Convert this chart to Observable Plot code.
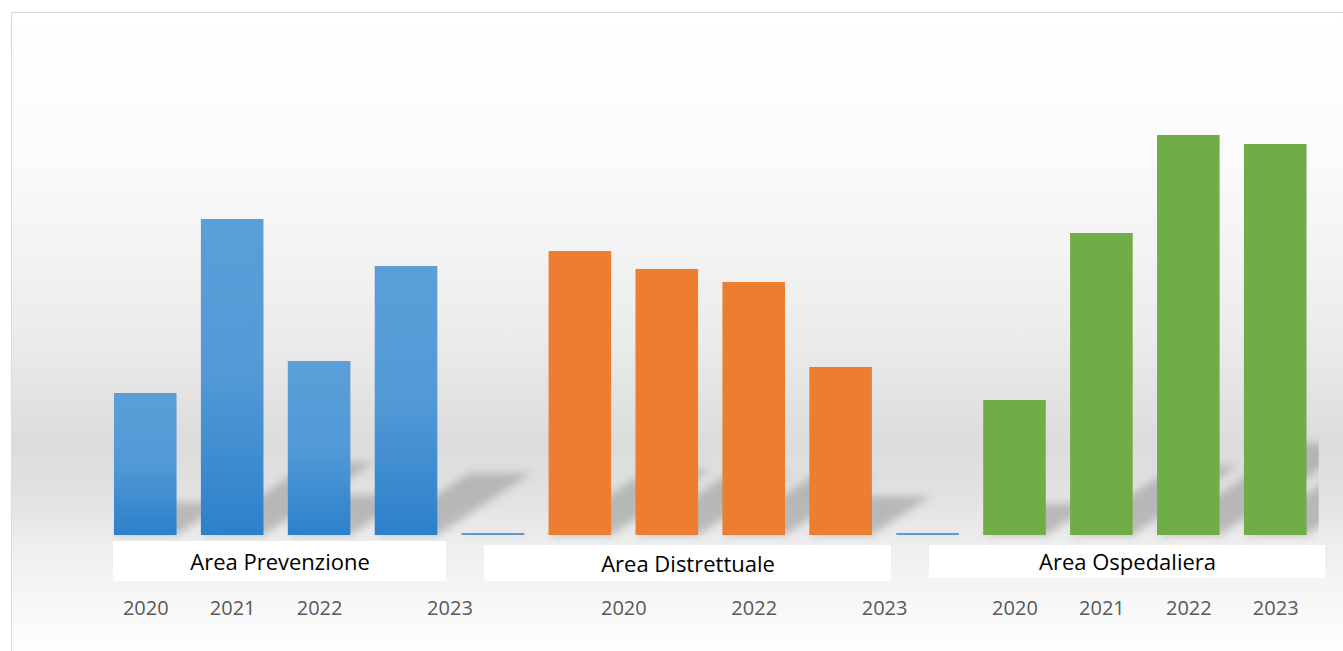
<!DOCTYPE html>
<html>
<head>
<meta charset="utf-8">
<script src="https://cdn.jsdelivr.net/npm/d3@7"></script>
<script src="https://cdn.jsdelivr.net/npm/@observablehq/plot@0.6"></script>
<style>
  html, body { margin: 0; padding: 0; background: #ffffff; }
  #wrap { position: relative; width: 1343px; height: 651px; overflow: hidden; font-family: "Open Sans", sans-serif; }
  #bg {
    position: absolute; left: 11px; top: 12px; width: 1331px; height: 700px;
    border: 1px solid #d9d9d9;
    background: linear-gradient(to bottom,
      #ffffff 0px, #fbfbfb 140px, #f3f3f3 240px, #ececec 318px, #e2e2e2 388px,
      #dcdcdc 433px, #e3e3e3 488px, #eeeeee 533px, #f7f7f7 588px, #fdfdfd 630px, #ffffff 700px);
  }
  #chart { position: absolute; left: 0; top: 0; }
</style>
</head>
<body>
<div id="wrap"><div id="bg"></div><div id="chart"></div></div>
<script>
// ---- data ----
const groups = ["Area Prevenzione", "Area Distrettuale", "Area Ospedaliera"];
const years = ["2020", "2021", "2022", "2023"];
const prevenzione = [142, 316, 174, 269];   // blue series
const distrettuale = [284, 266, 253, 168];  // orange series
const ospedaliera = [135, 302, 400, 391];   // green series
const stubValues = [2, 2];                  // near-zero blue bars between groups
const tickLabels = ["2020", "2021", "2022", "2023", "2020", "2022", "2023", "2020", "2021", "2022", "2023"];
const tickSlots = [0, 1, 2, 3.5, 5.5, 7, 8.5, 10, 11, 12, 13];

// ---- build table ----
const bars = [];
prevenzione.forEach((v, i) => bars.push({slot: i, value: v, series: "prev"}));
bars.push({slot: 4, value: stubValues[0], series: "stub"});
distrettuale.forEach((v, i) => bars.push({slot: 5 + i, value: v, series: "dist"}));
bars.push({slot: 9, value: stubValues[1], series: "stub"});
ospedaliera.forEach((v, i) => bars.push({slot: 10 + i, value: v, series: "osp"}));

const half = 0.36;           // half bar width in slot units
const rise = 0.23;           // shadow height relative to bar
const lean = 0.35 / 86.92;   // shadow horizontal shift (slots per value unit)
const shadows = [];
bars.forEach((b, i) => {
  shadows.push({id: i, y: 0, x1: b.slot - half, x2: b.slot + half});
  shadows.push({id: i, y: rise * b.value, x1: b.slot - half + lean * b.value, x2: b.slot + half + lean * b.value});
});

const boxes = [
  {label: groups[0], x1: -0.371, x2: 3.46, y1: -6, y2: -46, ty: -27},
  {label: groups[1], x1: 3.897, x2: 8.58, y1: -10, y2: -46, ty: -29},
  {label: groups[2], x1: 9.017, x2: 13.573, y1: -10, y2: -43, ty: -27}
];
const tickMap = new Map(tickSlots.map((s, i) => [s, tickLabels[i]]));
const colors = {prev: "url(#blueGrad)", stub: "#5b9bd5", dist: "#ed7d31", osp: "#70ad47"};

const chart = Plot.plot({
  width: 1343,
  height: 651,
  marginLeft: 101.8,
  marginRight: 24.3,
  marginTop: 35,
  marginBottom: 51,
  style: {background: "transparent", fontFamily: "'Open Sans', sans-serif", overflow: "visible"},
  x: {domain: [-0.5, 13.5], axis: null},
  y: {domain: [-65, 500], axis: null},
  marks: [
    Plot.areaX(shadows, {y: "y", x1: "x1", x2: "x2", z: "id", fill: "#9a9a9a", fillOpacity: 0.6, clip: true}),
    Plot.rectY(bars.filter(d => d.series === "prev"), {x1: d => d.slot - half, x2: d => d.slot + half, y1: 0, y2: "value", fill: colors.prev}),
    Plot.rectY(bars.filter(d => d.series === "stub"), {x1: d => d.slot - half, x2: d => d.slot + half, y1: 0, y2: "value", fill: colors.stub}),
    Plot.rectY(bars.filter(d => d.series === "dist"), {x1: d => d.slot - half, x2: d => d.slot + half, y1: 0, y2: "value", fill: colors.dist}),
    Plot.rectY(bars.filter(d => d.series === "osp"), {x1: d => d.slot - half, x2: d => d.slot + half, y1: 0, y2: "value", fill: colors.osp}),
    Plot.rect(boxes, {x1: "x1", x2: "x2", y1: "y1", y2: "y2", fill: "white"}),
    Plot.text(boxes, {x: d => (d.x1 + d.x2) / 2, y: "ty", text: "label", fontSize: 22, fill: "#000000", lineAnchor: "middle"}),
    Plot.axisX(tickSlots, {anchor: "bottom", tickSize: 0, tickPadding: 0, tickFormat: d => tickMap.get(d), fontSize: 20, fill: "#595959", stroke: null})
  ]
});

// gradient for blue bars and blur for shadows
const ns = "http://www.w3.org/2000/svg";
const defs = document.createElementNS(ns, "defs");
defs.innerHTML = '<linearGradient id="blueGrad" x1="0" y1="0" x2="0" y2="1">' +
  '<stop offset="0" stop-color="#5b9fd9"/><stop offset="0.5" stop-color="#5299d6"/>' +
  '<stop offset="1" stop-color="#2c80cb"/></linearGradient>';
chart.insertBefore(defs, chart.firstChild);
const area = chart.querySelector('g[aria-label="area"]');
if (area) area.style.filter = "blur(4px)";
document.getElementById("chart").appendChild(chart);
</script>
</body>
</html>
